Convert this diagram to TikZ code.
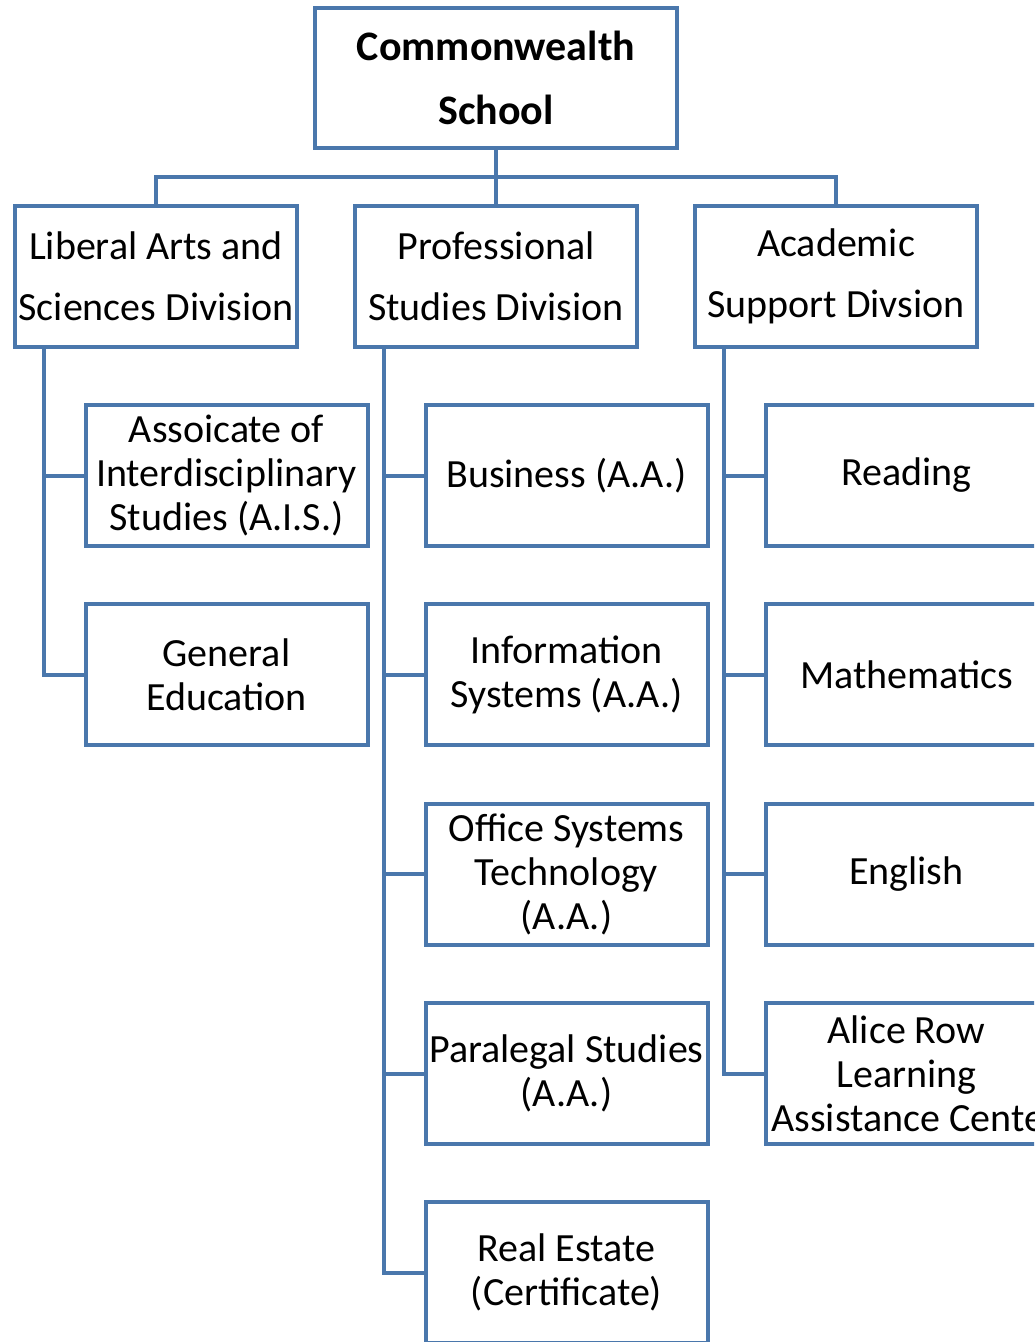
\documentclass[tikz,border=0pt]{standalone}
\usepackage{fontspec}
\setmainfont{Carlito}
\usepackage{xcolor}
\usepackage{tikz}
\usetikzlibrary{calc}
\definecolor{linecolor}{HTML}{4A77AC}

\begin{document}
\begin{tikzpicture}[x=1pt,y=-1pt,
   box/.style={draw=linecolor,line width=4pt,fill=white,inner sep=0pt,align=center,
      minimum width=282pt,minimum height=141pt,font=\fontsize{40}{44}\selectfont},
   divbox/.style={box,font=\fontsize{40}{61}\selectfont},
   rootbox/.style={box,minimum width=362pt,minimum height=140pt,font=\bfseries\fontsize{42}{64}\selectfont},
   link/.style={linecolor,line width=4pt}]
\useasboundingbox (0,0) rectangle (1034,1342);
\clip (0,0) rectangle (1034,1342);
%% top level
\node[rootbox] (root) at (496,78) {Commonwealth\\School};
\coordinate (bus) at (496,177);
\node[divbox] (lib) at (156,276.5) {Liberal Arts and\\Sciences Division};
\node[divbox] (prof) at (496,276.5) {Professional\\Studies Division};
\node[divbox] (acad) at (836,276.5) {Academic\\Support Divsion};
\draw[link] (root.south) -- (bus);
\draw[link] (lib.north) |- (bus) -| (acad.north);
\draw[link] (bus) -- (prof.north);
%% liberal arts
\node[box] (ais) at (226.5,475.5) {Assoicate of\\Interdisciplinary\\Studies (A.I.S.)};
\node[box] (gened) at (226.5,674.5) {General\\Education};
%% professional studies
\node[box] (bus1) at (566.5,475.5) {Business (A.A.)};
\node[box] (infsys) at (566.5,674.5) {Information\\Systems (A.A.)};
\node[box] (office) at (566.5,874) {Office Systems\\Technology\\(A.A.)};
\node[box] (para) at (566.5,1073.5) {Paralegal Studies\\(A.A.)};
\node[box] (realest) at (566.5,1272.5) {Real Estate\\(Certificate)};
%% academic support
\node[box] (read) at (906.5,475.5) {Reading};
\node[box] (math) at (906.5,674.5) {Mathematics};
\node[box] (engl) at (906.5,874) {English};
\node[box] (alice) at (906.5,1073.5) {Alice Row\\Learning\\\makebox[270pt][l]{Assistance Center}};
%% connectors
\foreach \c in {ais, gened}
   \draw[link] ([xshift=31pt]lib.south west) |- (\c.west);
\foreach \c in {bus1, infsys, office, para, realest}
   \draw[link] ([xshift=31pt]prof.south west) |- (\c.west);
\foreach \c in {read, math, engl, alice}
   \draw[link] ([xshift=31pt]acad.south west) |- (\c.west);
\end{tikzpicture}
\end{document}
